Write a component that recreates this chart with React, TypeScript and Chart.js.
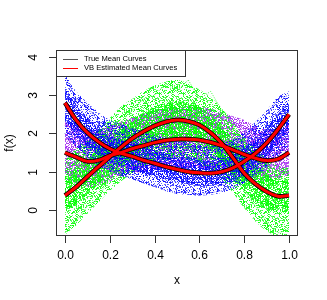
import React, { useEffect, useRef } from "react";
import { Chart, registerables } from "chart.js";

Chart.register(...registerables);

const xs = [0, 0.05, 0.1, 0.15, 0.2, 0.25, 0.3, 0.35, 0.4, 0.45, 0.5, 0.55, 0.6, 0.65, 0.7, 0.75, 0.8, 0.85, 0.9, 0.95, 1.0];

// mean curves
const meanBlue = [2.8, 2.35, 2.02, 1.78, 1.6, 1.48, 1.4, 1.3, 1.22, 1.13, 1.06, 1.0, 0.97, 0.96, 1.0, 1.1, 1.27, 1.48, 1.75, 2.1, 2.5];
const meanGreen = [0.38, 0.6, 0.87, 1.13, 1.39, 1.64, 1.87, 2.05, 2.2, 2.3, 2.35, 2.32, 2.22, 2.02, 1.74, 1.36, 0.96, 0.68, 0.48, 0.36, 0.38];
const meanPurple = [1.5, 1.38, 1.27, 1.3, 1.42, 1.5, 1.6, 1.68, 1.76, 1.82, 1.85, 1.85, 1.83, 1.77, 1.68, 1.57, 1.45, 1.35, 1.29, 1.33, 1.5];

// cloud envelopes
const blueOuterHi = [3.55, 3.1, 2.8, 2.55, 2.35, 2.25, 2.15, 2.05, 1.95, 1.9, 1.85, 1.8, 1.7, 1.7, 1.75, 1.85, 2.05, 2.3, 2.6, 2.95, 3.1];
const blueOuterLo = [1.9, 1.65, 1.4, 1.15, 1.0, 0.9, 0.8, 0.7, 0.6, 0.5, 0.42, 0.4, 0.38, 0.4, 0.45, 0.55, 0.7, 0.9, 1.1, 1.4, 1.7];
const blueInnerHi = [3.2, 2.75, 2.4, 2.15, 1.95, 1.82, 1.75, 1.65, 1.55, 1.48, 1.4, 1.35, 1.3, 1.3, 1.35, 1.45, 1.62, 1.85, 2.15, 2.5, 2.85];
const blueInnerLo = [2.35, 1.95, 1.65, 1.42, 1.25, 1.15, 1.05, 0.95, 0.88, 0.8, 0.72, 0.66, 0.63, 0.63, 0.66, 0.75, 0.92, 1.12, 1.38, 1.72, 2.1];

const greenOuterHi = [1.3, 1.6, 1.85, 2.1, 2.4, 2.7, 2.9, 3.1, 3.25, 3.35, 3.4, 3.3, 3.15, 2.95, 2.65, 2.3, 1.9, 1.6, 1.35, 1.15, 1.1];
const greenOuterLo = [-0.65, -0.4, -0.1, 0.2, 0.5, 0.75, 0.95, 1.15, 1.25, 1.3, 1.35, 1.3, 1.2, 1.05, 0.8, 0.45, 0.05, -0.3, -0.55, -0.7, -0.7];
const greenInnerHi = [0.85, 1.1, 1.35, 1.6, 1.85, 2.1, 2.35, 2.55, 2.7, 2.8, 2.85, 2.8, 2.7, 2.5, 2.2, 1.85, 1.45, 1.15, 0.95, 0.8, 0.8];
const greenInnerLo = [-0.05, 0.15, 0.4, 0.65, 0.95, 1.2, 1.4, 1.55, 1.7, 1.8, 1.85, 1.82, 1.72, 1.55, 1.25, 0.9, 0.5, 0.22, 0.02, -0.05, -0.05];

const purpleOuterHi = [2.3, 2.2, 2.1, 2.1, 2.2, 2.3, 2.4, 2.5, 2.6, 2.65, 2.7, 2.7, 2.7, 2.65, 2.55, 2.45, 2.35, 2.2, 2.1, 2.1, 2.25];
const purpleOuterLo = [0.8, 0.7, 0.6, 0.65, 0.75, 0.85, 0.95, 1.0, 1.05, 1.1, 1.1, 1.1, 1.1, 1.05, 1.0, 0.9, 0.8, 0.75, 0.75, 0.8, 0.9];

// a few individual sample curves
const greenSampleLow = [-0.6, -0.3, 0.1, 0.3, 0.9, 1.1, 1.6, 1.7, 2.0, 2.1, 2.0, 2.2, 1.9, 1.8, 1.4, 0.9, 0.5, 0.1, -0.3, -0.6, -0.5];
const greenSampleHigh = [0.8, 1.1, 1.2, 1.7, 1.9, 2.3, 2.6, 2.9, 3.0, 3.3, 3.1, 3.4, 2.9, 3.1, 2.6, 2.2, 1.7, 1.3, 1.1, 0.9, 1.0];
const blueSampleHigh = [3.5, 2.9, 2.7, 2.3, 2.2, 2.0, 2.1, 1.8, 1.9, 1.7, 1.75, 1.6, 1.65, 1.5, 1.7, 1.7, 1.9, 2.2, 2.5, 2.9, 3.0];
const blueSampleLow = [2.0, 1.7, 1.4, 1.2, 1.05, 0.9, 0.85, 0.7, 0.65, 0.5, 0.45, 0.5, 0.4, 0.45, 0.5, 0.6, 0.75, 0.95, 1.2, 1.5, 1.8];
const purpleSample = [2.2, 1.9, 1.8, 2.0, 2.1, 2.2, 2.4, 2.3, 2.5, 2.5, 2.6, 2.4, 2.6, 2.5, 2.4, 2.3, 2.2, 2.0, 1.9, 2.0, 2.2];

const xTicks = [0, 0.2, 0.4, 0.6, 0.8, 1.0];
const yTicks = [0, 1, 2, 3, 4];
const legendLabels = ["True Mean Curves", "VB Estimated Mean Curves"];

const pts = (ys: number[]) => ys.map((y, i) => ({ x: xs[i], y }));

// speckle texture to imitate dense dotted lines (styling only)
function speckle(rgb: string, density: number, seed: number): CanvasPattern | string {
  const size = 24;
  const c = document.createElement("canvas");
  c.width = size;
  c.height = size;
  const g = c.getContext("2d");
  if (!g) return `rgba(${rgb},${density})`;
  for (let j = 0; j < size; j++) {
    for (let i = 0; i < size; i++) {
      let h = (i * 374761393 + j * 668265263 + seed * 1442695041) | 0;
      h = Math.imul(h ^ (h >>> 13), 1274126177);
      h = (h ^ (h >>> 16)) >>> 0;
      const v = (h % 1000) / 1000;
      if (v < density) {
        g.fillStyle = `rgba(${rgb},${0.55 + 0.45 * ((h >>> 10) % 100) / 100})`;
        g.fillRect(i, j, 1, 1);
      }
    }
  }
  const p = g.createPattern(c, "repeat");
  return p || `rgba(${rgb},${density})`;
}

export default function App() {
  const ref = useRef<HTMLCanvasElement | null>(null);
  useEffect(() => {
    if (!ref.current) return;
    const datasets: any[] = [];
    const add = (d: any) => {
      datasets.push({ pointRadius: 0, borderWidth: 0, fill: false, tension: 0.3, ...d });
      return datasets.length - 1;
    };
    const band = (lo: number[], hi: number[], color: any, order: number) => {
      const li = add({ data: pts(lo), borderColor: "rgba(0,0,0,0)", order });
      add({ data: pts(hi), borderColor: "rgba(0,0,0,0)", backgroundColor: color, fill: { target: li }, order });
    };
    band(purpleOuterLo, purpleOuterHi, speckle("160,32,240", 0.55, 1), 9);
    band(greenOuterLo, greenOuterHi, speckle("0,255,0", 0.4, 2), 8);
    band(greenInnerLo, greenInnerHi, speckle("0,255,0", 0.6, 3), 7);
    band(blueOuterLo, blueOuterHi, speckle("0,0,255", 0.35, 4), 6);
    band(blueInnerLo, blueInnerHi, speckle("0,0,255", 0.55, 5), 5);
    const sample = (ys: number[], c: string) =>
      add({ data: pts(ys), borderColor: c, borderWidth: 0.8, borderDash: [1, 1.5], tension: 0, order: 3 });
    sample(purpleSample, "#A020F0");
    sample(greenSampleLow, "#00FF00");
    sample(greenSampleHigh, "#00FF00");
    sample(blueSampleHigh, "#0000FF");
    sample(blueSampleLow, "#0000FF");
    [meanBlue, meanGreen, meanPurple].forEach((m) =>
      add({ data: pts(m), borderColor: "#000000", borderWidth: 4.6, tension: 0.4, order: 1 })
    );
    [meanBlue, meanGreen, meanPurple].forEach((m) =>
      add({ data: pts(m), borderColor: "#FF0000", borderWidth: 3, tension: 0.4, order: 0 })
    );

    const rAxes = {
      id: "rAxes",
      afterDraw(chart: any) {
        const ctx = chart.ctx as CanvasRenderingContext2D;
        const a = chart.chartArea;
        const xs_ = chart.scales.x;
        const ys_ = chart.scales.y;
        ctx.save();
        ctx.strokeStyle = "#333";
        ctx.lineWidth = 1;
        ctx.strokeRect(a.left + 0.5, a.top + 0.5, a.right - a.left - 1, a.bottom - a.top - 1);
        ctx.fillStyle = "#000";
        ctx.font = "12px 'Liberation Sans', Arial, sans-serif";
        ctx.textAlign = "center";
        ctx.textBaseline = "middle";
        xTicks.forEach((v) => {
          const px = Math.round(xs_.getPixelForValue(v)) + 0.5;
          ctx.beginPath();
          ctx.moveTo(px, a.bottom);
          ctx.lineTo(px, a.bottom + 7);
          ctx.stroke();
          ctx.fillText(v.toFixed(1), px, 256);
        });
        yTicks.forEach((v) => {
          const py = Math.round(ys_.getPixelForValue(v)) + 0.5;
          ctx.beginPath();
          ctx.moveTo(a.left, py);
          ctx.lineTo(a.left - 7, py);
          ctx.stroke();
          ctx.save();
          ctx.translate(34, py);
          ctx.rotate(-Math.PI / 2);
          ctx.fillText(String(v), 0, 0);
          ctx.restore();
        });
        ctx.fillText("x", (a.left + a.right) / 2, 281);
        ctx.save();
        ctx.translate(10, (a.top + a.bottom) / 2);
        ctx.rotate(-Math.PI / 2);
        ctx.fillText("f(x)", 0, 0);
        ctx.restore();
        // legend
        const lx = a.left, ly = a.top, lw = 129, lh = 26;
        ctx.fillStyle = "#fff";
        ctx.fillRect(lx, ly, lw, lh);
        ctx.strokeStyle = "#333";
        ctx.strokeRect(lx + 0.5, ly + 0.5, lw, lh);
        ctx.font = "7.6px 'Liberation Sans', Arial, sans-serif";
        ctx.textAlign = "left";
        const cols = ["#555", "#FF0000"];
        legendLabels.forEach((t, i) => {
          const yy = ly + 9 + i * 9;
          ctx.strokeStyle = cols[i];
          ctx.beginPath();
          ctx.moveTo(lx + 7, yy + 0.5);
          ctx.lineTo(lx + 22, yy + 0.5);
          ctx.stroke();
          ctx.fillStyle = "#000";
          ctx.fillText(t, lx + 28, yy);
        });
        ctx.restore();
      },
    };

    const chart = new Chart(ref.current, {
      type: "line",
      data: { datasets },
      options: {
        animation: false,
        responsive: false,
        maintainAspectRatio: false,
        layout: { padding: { left: 56, right: 29, top: 50, bottom: 64 } },
        plugins: { legend: { display: false }, tooltip: { enabled: false } },
        scales: {
          x: { type: "linear", min: -0.04, max: 1.04, display: false },
          y: { type: "linear", min: -0.68, max: 4.18, display: false },
        },
      },
      plugins: [rAxes],
    });
    return () => chart.destroy();
  }, []);
  return (
    <div style={{ position: "fixed", left: 0, top: 0, width: 327, height: 300, background: "#fff" }}>
      <canvas ref={ref} width={327} height={300} style={{ width: 327, height: 300 }} />
    </div>
  );
}
